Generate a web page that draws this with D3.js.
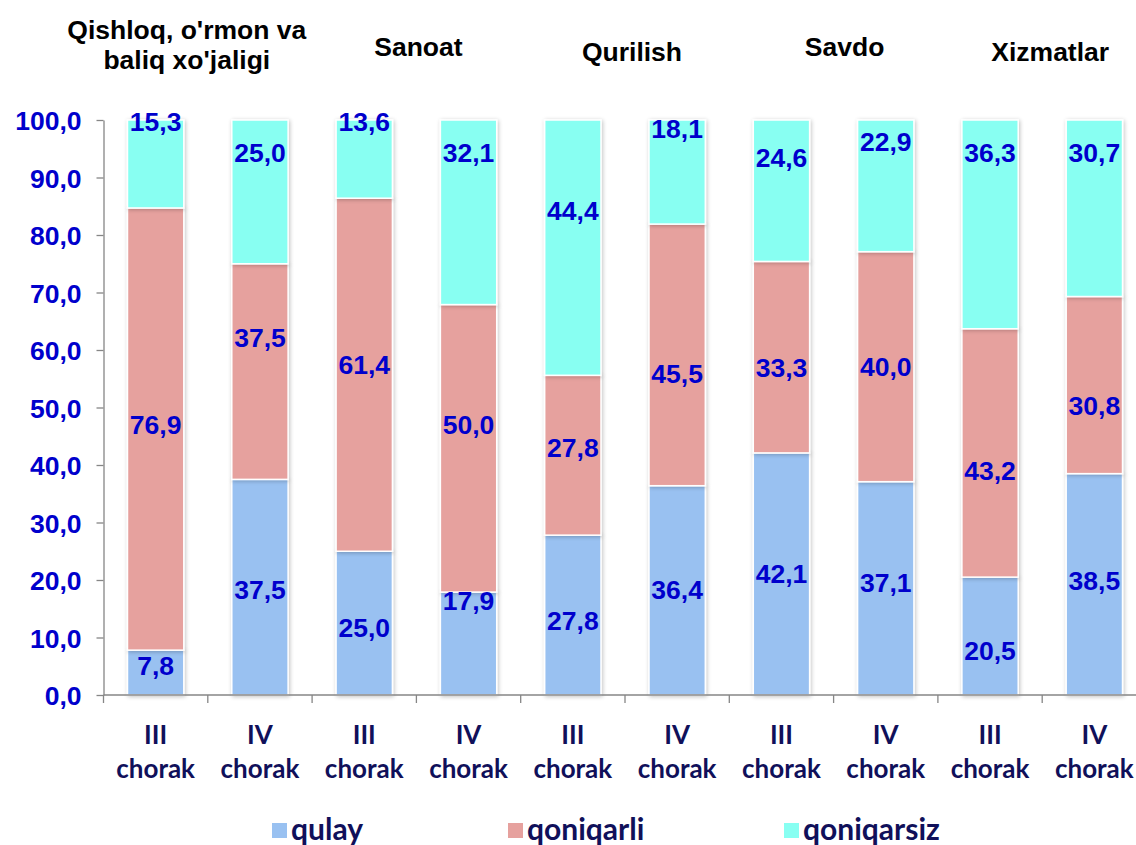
<!DOCTYPE html>
<html><head><meta charset="utf-8">
<script src="https://cdn.jsdelivr.net/npm/d3@7"></script>
<style>body{margin:0;background:#fff}svg{display:block}</style>
</head><body><svg id="c" width="1136" height="845"></svg>
<script>
const sectors = ["Qishloq, o'rmon va|baliq xo'jaligi","Sanoat","Qurilish","Savdo","Xizmatlar"];
const categories = ["III chorak","IV chorak","III chorak","IV chorak","III chorak","IV chorak","III chorak","IV chorak","III chorak","IV chorak"];
const seriesNames = ["qulay","qoniqarli","qoniqarsiz"];
const qulay      = [7.8,37.5,25.0,17.9,27.8,36.4,42.1,37.1,20.5,38.5];
const qoniqarli  = [76.9,37.5,61.4,50.0,27.8,45.5,33.3,40.0,43.2,30.8];
const qoniqarsiz = [15.3,25.0,13.6,32.1,44.4,18.1,24.6,22.9,36.3,30.7];
// label anchor values (data units) as placed in the original chart
const qulayLabelAt      = [5.2,18.3,11.8,16.5,13.0,18.3,21.2,19.5,7.8,20.0];
const qoniqarliLabelAt  = [47.0,62.1,57.4,47.0,43.0,56.0,56.9,57.2,39.1,50.4];
const qoniqarsizLabelAt = [99.7,94.4,99.7,94.4,84.3,98.6,93.4,96.2,94.4,94.4];
const yTicks = [0,10,20,30,40,50,60,70,80,90,100];

const colors = ["#99C1F1","#E6A19E","#88FFF2"];
const values = [qulay,qoniqarli,qoniqarsiz];
const labelAt = [qulayLabelAt,qoniqarliLabelAt,qoniqarsizLabelAt];
const fmt = v => d3.format(".1f")(v).replace(".",",");

const svg = d3.select("#c");
const x0 = 103.5, step = 104.3;
const idx = d3.range(categories.length);
const x = d3.scaleBand().domain(idx).range([x0, x0 + step*idx.length]).paddingInner(0.46).paddingOuter(0.23);
const y = d3.scaleLinear().domain([0,100]).range([695,120]);

const defs = svg.append("defs");
const f = defs.append("filter").attr("id","sh").attr("x","-20%").attr("y","-5%").attr("width","140%").attr("height","110%");
f.append("feGaussianBlur").attr("in","SourceAlpha").attr("stdDeviation",2.2).attr("result","b");
f.append("feOffset").attr("in","b").attr("dx",1).attr("dy",1).attr("result","o");
f.append("feComponentTransfer").attr("in","o").attr("result","o2").append("feFuncA").attr("type","linear").attr("slope",0.25);
const m = f.append("feMerge"); m.append("feMergeNode").attr("in","o2"); m.append("feMergeNode").attr("in","SourceGraphic");

const stackData = idx.map(i => ({i, qulay:qulay[i], qoniqarli:qoniqarli[i], qoniqarsiz:qoniqarsiz[i]}));
const stacked = d3.stack().keys(seriesNames)(stackData);

const bars = svg.append("g");
stacked.forEach((s,k) => {
  bars.append("g").attr("filter","url(#sh)").selectAll("rect").data(s).join("rect")
    .attr("x", d => x(d.data.i))
    .attr("width", x.bandwidth())
    .attr("y", d => y(Math.min(d[1],100)))
    .attr("height", d => y(d[0]) - y(Math.min(d[1],100)))
    .attr("fill", colors[k])
    .attr("stroke","#fff").attr("stroke-width",1.5);
});

const yAxis = svg.append("g").attr("transform",`translate(${x0},0)`)
  .call(d3.axisLeft(y).tickValues(yTicks).tickSize(7).tickSizeOuter(0).tickFormat(fmt));
yAxis.select(".domain").attr("stroke","#868686").attr("stroke-width",1.3);
yAxis.selectAll(".tick line").attr("stroke","#868686").attr("stroke-width",1.3);
yAxis.selectAll(".tick text").attr("x",-22).attr("dy","0.36em")
  .attr("font-family","'Liberation Sans',Arial,sans-serif").attr("font-weight","bold").attr("font-size",26.5).attr("fill","#0000CC");

const xg = svg.append("g").attr("transform","translate(0,695)");
xg.append("line").attr("x1",x0).attr("x2",x0+step*idx.length).attr("stroke","#868686").attr("stroke-width",1.3);
xg.selectAll("line.t").data(d3.range(idx.length+1)).join("line").attr("class","t")
  .attr("x1",d=>x0+step*d).attr("x2",d=>x0+step*d).attr("y1",0).attr("y2",8).attr("stroke","#868686").attr("stroke-width",1.3);
const xl = xg.selectAll("text.xl").data(idx).join("text").attr("class","xl")
  .attr("text-anchor","middle").attr("font-family","Lato,'Open Sans',sans-serif").attr("font-weight","bold")
  .attr("font-size",26).attr("fill","#10105A");
xl.append("tspan").attr("x",i=>x(i)+x.bandwidth()/2).attr("y",49).text(i=>categories[i].split(" ")[0]);
xl.append("tspan").attr("x",i=>x(i)+x.bandwidth()/2).attr("y",83).text(i=>categories[i].split(" ")[1]);

values.forEach((vals,k) => {
  svg.append("g").selectAll("text").data(idx).join("text")
    .attr("x", i => x(i)+x.bandwidth()/2)
    .attr("y", i => y(labelAt[k][i]))
    .attr("dy","0.36em").attr("text-anchor","middle")
    .attr("font-family","'Liberation Sans',Arial,sans-serif").attr("font-weight","bold").attr("font-size",26.5)
    .attr("fill","#0000CC")
    .text(i => fmt(vals[i]));
});

const hdr = svg.append("g").attr("font-family","'Liberation Sans',Arial,sans-serif").attr("font-weight","bold")
  .attr("font-size",26.5).attr("fill","#000").attr("text-anchor","middle");
const hdrDx = [-21,2,7,11,8];
const hdrBase = [39,56,61,56,61];
sectors.forEach((s,j) => {
  const cx = (x(2*j) + x(2*j+1) + x.bandwidth())/2 + hdrDx[j];
  const lines = s.split("|");
  const t = hdr.append("text");
  lines.forEach((ln,li) => t.append("tspan").attr("x",cx).attr("y",hdrBase[j]+li*30).text(ln));
});

const legX = [272,508,784];
const lg = svg.append("g");
seriesNames.forEach((n,k) => {
  lg.append("rect").attr("x",legX[k]).attr("y",823).attr("width",15).attr("height",15).attr("fill",colors[k]);
  lg.append("text").attr("x",legX[k]+19).attr("y",840).attr("font-family","Lato,'Open Sans',sans-serif")
    .attr("font-weight","bold").attr("font-size",30).attr("fill","#10105A").text(n);
});
</script></body></html>
